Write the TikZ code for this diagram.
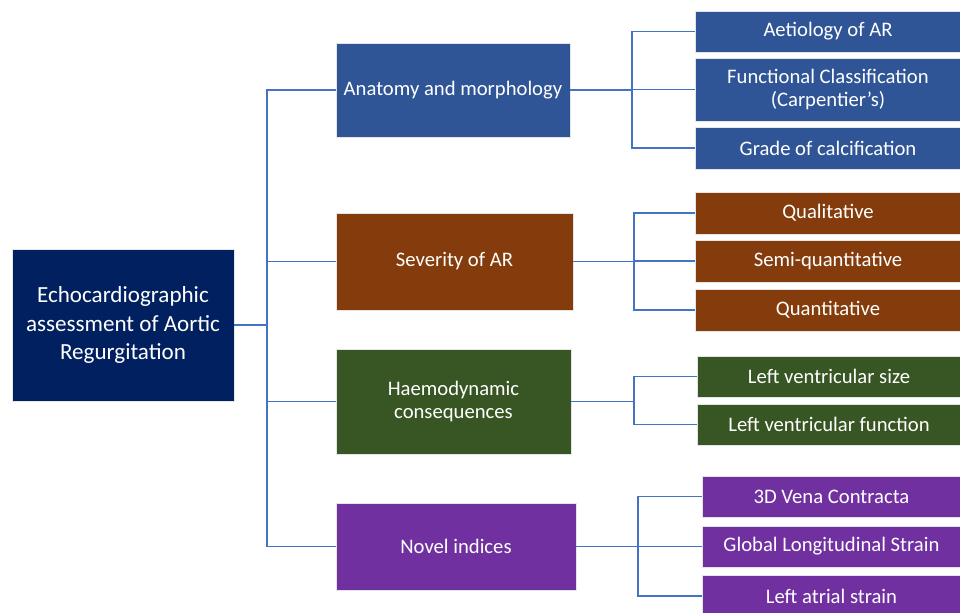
\documentclass[tikz,border=0pt]{standalone}
\usepackage{fontspec}
\setmainfont{Carlito}
\definecolor{rootblue}{HTML}{002060}
\definecolor{anatblue}{HTML}{2F5597}
\definecolor{sevbrown}{HTML}{843C0C}
\definecolor{haemgreen}{HTML}{375623}
\definecolor{novpurple}{HTML}{7030A0}
\definecolor{linkblue}{HTML}{4472C4}
\begin{document}
\begin{tikzpicture}[x=0.75pt, y=-0.75pt,
  blk/.style={draw=white!80!gray, line width=0.6pt, text=white, inner sep=0pt, align=center,
    font=\fontsize{15.5}{17.3}\selectfont},
  wide/.style={font=\fontsize{17.3}{21.4}\selectfont},
  conn/.style={draw=linkblue, line width=0.9pt}]

\useasboundingbox (0,0) rectangle (960,613);

% name, centre x, centre y, width, height, colour, text
\def\blk(#1,#2,#3,#4,#5,#6,#7){
  \node[blk, fill=#6, minimum width=#4*0.75pt, minimum height=#5*0.75pt] (#1) at (#2,#3) {#7};
}

% root and first level
\node[blk, wide, fill=rootblue, minimum width=222*0.75pt, minimum height=152*0.75pt] (root) at (123,325)
  {Echocardiographic\\assessment of Aortic\\Regurgitation};
\blk(anat,453,90,234,94,anatblue,{Anatomy and morphology});
\blk(sev,454.5,261.5,237,97,sevbrown,{Severity of AR});
\blk(haem,453.5,401.5,235,105,haemgreen,{Haemodynamic\\consequences});
\blk(novel,456,546.5,240,87,novpurple,{Novel indices});

% second level
\blk(aet,828,31.5,266,41,anatblue,{Aetiology of AR});
\blk(func,828,89.5,266,63,anatblue,{Functional Classification\\(Carpentier's)});
\blk(grade,828,148,266,42,anatblue,{Grade of calcification});

\blk(qual,828,213,266,42,sevbrown,{Qualitative});
\blk(semi,828,261,266,42,sevbrown,{Semi-quantitative});
\blk(quant,828,310,266,42,sevbrown,{Quantitative});

\blk(lvsize,829,376.5,264,41,haemgreen,{Left ventricular size});
\blk(lvfunc,829,424.5,264,41,haemgreen,{Left ventricular function});

\blk(vena,831.5,496.5,259,41,novpurple,{3D Vena Contracta});
\blk(gls,831.5,546.5,259,41,novpurple,{Global Longitudinal Strain});
\blk(las,831.5,596,259,42,novpurple,{Left atrial strain});

% connectors
\coordinate (j0) at (267,325);
\draw[conn] (root.east) -- (j0);
\draw[conn] (anat.west) -| (j0) |- (novel.west);
\draw[conn] (sev.west -| j0) -- (sev.west);
\draw[conn] (haem.west -| j0) -- (haem.west);

\coordinate (j1) at (632,90);
\draw[conn] (anat.east) -- (j1);
\draw[conn] (aet.west) -| (j1) |- (grade.west);
\draw[conn] (func.west -| j1) -- (func.west);

\coordinate (j2) at (634,261.5);
\draw[conn] (sev.east) -- (j2);
\draw[conn] (qual.west) -| (j2) |- (quant.west);
\draw[conn] (semi.west -| j2) -- (semi.west);

\coordinate (j3) at (634,401.5);
\draw[conn] (haem.east) -- (j3);
\draw[conn] (lvsize.west) -| (j3) |- (lvfunc.west);

\coordinate (j4) at (638,546.5);
\draw[conn] (novel.east) -- (j4);
\draw[conn] (vena.west) -| (j4) |- (las.west);
\draw[conn] (gls.west -| j4) -- (gls.west);

\end{tikzpicture}
\end{document}
